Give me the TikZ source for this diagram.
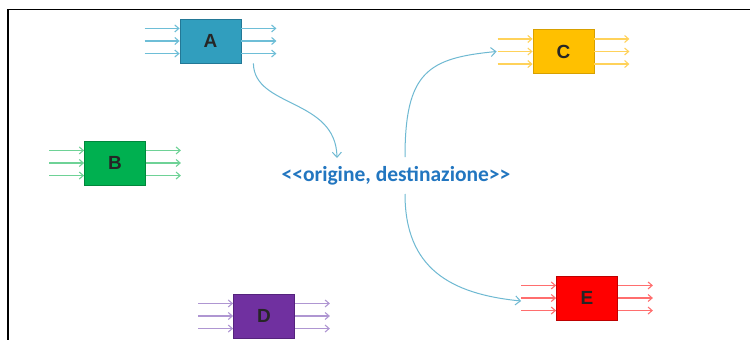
\documentclass[tikz,border=0pt]{standalone}
\usepackage{fontspec}
\setmainfont{Liberation Sans}
\newfontfamily\lblfont{Carlito}
\usetikzlibrary{arrows.meta,calc}
\definecolor{fA}{RGB}{49,158,190}\definecolor{dA}{RGB}{35,120,150}\definecolor{aA}{RGB}{110,190,215}
\definecolor{fB}{RGB}{0,176,80}\definecolor{dB}{RGB}{0,135,60}\definecolor{aB}{RGB}{110,210,150}
\definecolor{fC}{RGB}{255,192,0}\definecolor{dC}{RGB}{215,160,0}\definecolor{aC}{RGB}{255,210,90}
\definecolor{fD}{RGB}{112,48,160}\definecolor{dD}{RGB}{85,35,125}\definecolor{aD}{RGB}{175,150,210}
\definecolor{fE}{RGB}{255,0,0}\definecolor{dE}{RGB}{190,0,0}\definecolor{aE}{RGB}{255,110,110}
\definecolor{lblblue}{RGB}{34,118,192}
\definecolor{curveblue}{RGB}{110,185,210}
\tikzset{
  blk/.style={draw=d#1,fill=f#1,line width=0.8pt,minimum width=61pt,minimum height=44pt,inner sep=0pt,
     font=\bfseries\fontsize{19}{19}\selectfont,text=black!85},
  stub/.style={draw=a#1,line width=1.1pt,-{Straight Barb[length=4pt,width=7pt]}},
  curve/.style={draw=curveblue,line width=1pt,-{Straight Barb[length=5pt,width=9pt]}},
}
\begin{document}
\begin{tikzpicture}[x=1pt,y=-1pt]
\useasboundingbox (0,0) rectangle (750,340);
\fill[white] (0,0) rectangle (750,340);
\draw[black,line width=1.8pt] (8,340) -- (8,9.5) -- (750,9.5);

\node[blk=A] (A) at (210.5,41) {A};
\node[blk=B] (B) at (115,163) {B};
\node[blk=C] (C) at (563.5,51.5) {C};
\node[blk=D] (D) at (264,316) {D};
\node[blk=E] (E) at (587,298) {E};

\foreach \n in {A,B,C,D,E}{
  \foreach \f in {0.22,0.5,0.78}{
    \draw[stub=\n] ($(\n.north west)!\f!(\n.south west)+(-35,0)$) -- ($(\n.north west)!\f!(\n.south west)$);
    \draw[stub=\n] ($(\n.north east)!\f!(\n.south east)$) -- ++(35,0);
  }
}

\node[font=\lblfont\bfseries\fontsize{21.5}{22}\selectfont,text=lblblue,inner sep=2pt] (L) at (396,176) {{<}{<}origine, destinazione{>}{>}};

\coordinate (sA) at ([xshift=12,yshift=0]A.south east);
\coordinate (tA) at (337,158);
\coordinate (sC) at (405,157);
\coordinate (sE) at (405,194);
\draw[curve] (sA) .. controls (254,108) and (336,98) .. (tA);
\draw[curve] (sC) .. controls (405,72) and (428,58) .. ([xshift=-36]C.west);
\draw[curve] (sE) .. controls (405,268) and (450,294) .. ([xshift=-35,yshift=-3]E.west);
\end{tikzpicture}
\end{document}
